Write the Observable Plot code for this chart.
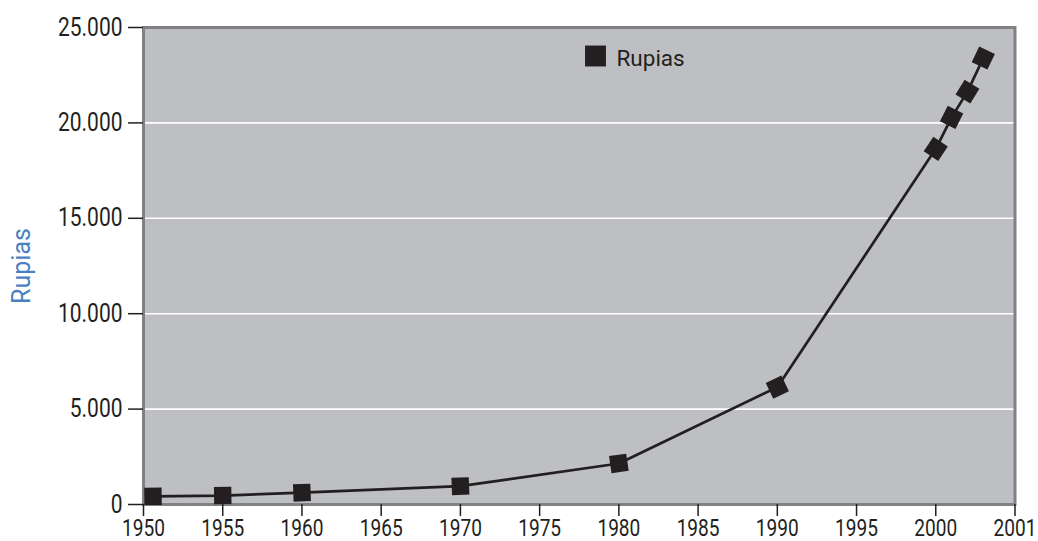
<!DOCTYPE html>
<html>
<head>
<meta charset="utf-8">
<script src="https://cdn.jsdelivr.net/npm/d3@7"></script>
<script src="https://cdn.jsdelivr.net/npm/@observablehq/plot@0.6"></script>
<style>
  html, body { margin: 0; padding: 0; background: #ffffff; }
  #chart { width: 1038px; height: 541px; }
  svg { font-family: Roboto, "Liberation Sans", sans-serif; }
</style>
</head>
<body>
<div id="chart"></div>
<script>
// ---- data ----
const years = [1950.6, 1955, 1960, 1970, 1980, 1990, 2000, 2001, 2002, 2003];
const rupias = [430, 470, 620, 960, 2150, 6150, 18640, 20290, 21640, 23400];
const seriesName = "Rupias";
const yAxisLabel = "Rupias";
const xTicks = [1950, 1955, 1960, 1965, 1970, 1975, 1980, 1985, 1990, 1995, 2000, 2005];
const xTickLabels = ["1950", "1955", "1960", "1965", "1970", "1975", "1980", "1985", "1990", "1995", "2000", "2001"];
const yTicks = [0, 5000, 10000, 15000, 20000, 25000];
const yTickLabels = ["0", "5.000", "10.000", "15.000", "20.000", "25.000"];
const gridValues = [5000, 10000, 15000, 20000];
const xDomain = [1950, 2005];
const yDomain = [0, 25000];

// ---- layout ----
const W = 1038, H = 541;
const mL = 143, mR = 23.5, mT = 27, mB = 37;
const ink = "#231f20";

const data = years.map((y, i) => ({year: y, value: rupias[i]}));
const xLabelMap = new Map(xTicks.map((t, i) => [t, xTickLabels[i]]));
const yLabelMap = new Map(yTicks.map((t, i) => [t, yTickLabels[i]]));

// marker orientation follows the incoming segment (screen space)
const xs = Plot.scale({x: {domain: xDomain, range: [mL, W - mR]}});
const ys = Plot.scale({y: {domain: yDomain, range: [H - mB, mT]}});
data.forEach((d, i) => {
  const a = i === 0 ? data[0] : data[i - 1];
  const b = i === 0 ? data[1] : data[i];
  d.angle = Math.atan2(ys.apply(b.value) - ys.apply(a.value), xs.apply(b.year) - xs.apply(a.year)) * 180 / Math.PI;
});

const chart = Plot.plot({
  width: W,
  height: H,
  marginLeft: mL,
  marginRight: mR,
  marginTop: mT,
  marginBottom: mB,
  x: {domain: xDomain, axis: null},
  y: {domain: yDomain, axis: null},
  marks: [
    Plot.frame({fill: "#bebfc3", stroke: null}),
    Plot.gridY(gridValues, {stroke: "#ffffff", strokeOpacity: 1, strokeWidth: 1.6}),
    Plot.frame({stroke: "#808185", strokeWidth: 3}),
    Plot.axisY({
      ticks: yTicks,
      tickFormat: d => yLabelMap.get(d),
      tickSize: 15,
      tickPadding: 6,
      fontSize: 25,
      stroke: ink,
      strokeWidth: 1.5,
      fill: ink,
      label: null
    }),
    Plot.axisX({
      ticks: xTicks,
      tickFormat: d => xLabelMap.get(d),
      tickSize: 12,
      tickPadding: 3,
      fontSize: 23,
      stroke: ink,
      strokeWidth: 1.5,
      fill: ink,
      label: null
    }),
    Plot.line(data, {x: "year", y: "value", stroke: ink, strokeWidth: 2.7}),
    Plot.dot(data, {x: "year", y: "value", symbol: "square", r: 9.8, fill: ink, stroke: null, rotate: "angle"}),
    // legend
    Plot.dot([seriesName], {frameAnchor: "top-left", dx: 452, dy: 28.5, symbol: "square", r: 11.8, fill: ink, stroke: null}),
    Plot.text([seriesName], {frameAnchor: "top-left", dx: 473, dy: 31.5, text: d => d, textAnchor: "start", lineAnchor: "middle", fontSize: 22.5, fill: ink}),
    // y axis title
    Plot.text([yAxisLabel], {frameAnchor: "left", dx: -122, text: d => d, rotate: -90, textAnchor: "middle", lineAnchor: "middle", fontSize: 25, fill: "#4a7fc1"})
  ]
});

document.getElementById("chart").appendChild(chart);

// condense the tick label glyphs (narrow face in the original)
chart.querySelectorAll('g[aria-label="y-axis tick label"] text').forEach(t => {
  t.setAttribute("transform", (t.getAttribute("transform") || "") + " scale(0.84,1)");
});
chart.querySelectorAll('g[aria-label="x-axis tick label"] text').forEach(t => {
  t.setAttribute("transform", (t.getAttribute("transform") || "") + " scale(0.83,1)");
});
</script>
</body>
</html>
